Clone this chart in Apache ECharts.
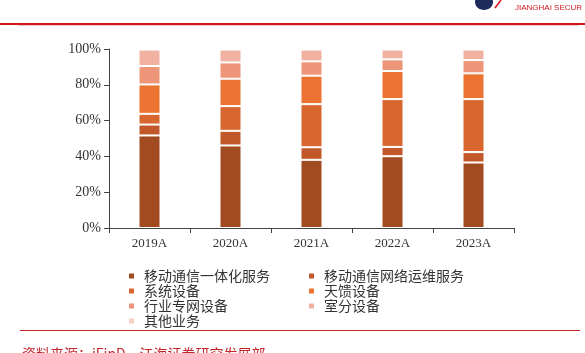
<!DOCTYPE html>
<html>
<head>
<meta charset="utf-8">
<script src="https://cdn.jsdelivr.net/npm/echarts@6/dist/echarts.min.js"></script>
<style>
  html, body { margin: 0; padding: 0; background: #fff; }
  #chart { width: 585px; height: 353px; }
</style>
</head>
<body>
<div id="chart"></div>
<script>
// Data (share of revenue, %)
var years = ['2019A', '2020A', '2021A', '2022A', '2023A'];
var yTicks = ['0%', '20%', '40%', '60%', '80%', '100%'];
var seriesNames = ['移动通信一体化服务', '移动通信网络运维服务', '系统设备', '天馈设备', '行业专网设备', '室分设备', '其他业务'];
var integratedService = [51.7, 46.1, 38.1, 40.1, 36.6];
var networkOps = [6.1, 8.2, 7.0, 5.2, 5.8];
var systemEquip = [6.0, 13.8, 24.1, 26.7, 29.6];
var antennaEquip = [16.4, 15.3, 15.9, 15.7, 14.4];
var privateNetEquip = [10.3, 9.1, 8.0, 6.5, 7.4];
var indoorEquip = [9.2, 7.2, 6.6, 5.5, 5.9];
var otherBusiness = [0.3, 0.3, 0.3, 0.3, 0.3];

var colors = ['#a34b20', '#c2582a', '#d7672e', '#ea7331', '#ec9579', '#f2b2a2', '#f6d0c7'];

var chart = echarts.init(document.getElementById('chart'));

var seriesData = [integratedService, networkOps, systemEquip, antennaEquip, privateNetEquip, indoorEquip, otherBusiness];

var series = seriesData.map(function (d, i) {
    return {
        name: seriesNames[i],
        type: 'bar',
        stack: 'total',
        barWidth: 22,
        data: d,
        itemStyle: { color: colors[i], borderColor: '#fff', borderWidth: 1 }
    };
});

var legendText = {
    fontFamily: '"Noto Sans CJK SC", sans-serif',
    fontSize: 14,
    lineHeight: 14,
    color: '#333',
    padding: [0, 0, 0, 4]
};

// Two vertical legend columns
var legendColumn = function (names, left) {
    return {
        data: names,
        orient: 'vertical',
        left: left,
        top: 264,
        padding: 5,
        itemWidth: 7,
        itemHeight: 7,
        itemGap: 1,
        icon: 'rect',
        textStyle: legendText
    };
};

chart.setOption({
    animation: false,
    color: colors,
    grid: { left: 109, right: 71, top: 49, bottom: 125 },
    legend: [
        legendColumn([seriesNames[0], seriesNames[2], seriesNames[4], seriesNames[6]], 122),
        legendColumn([seriesNames[1], seriesNames[3], seriesNames[5]], 302)
    ],
    xAxis: {
        type: 'category',
        data: years,
        axisLine: { lineStyle: { color: '#444', width: 1 } },
        axisTick: { show: true, length: 5, lineStyle: { color: '#444' } },
        axisLabel: { color: '#333', fontFamily: '"Liberation Serif", serif', fontSize: 13, margin: 9 }
    },
    yAxis: {
        type: 'value',
        min: 0,
        max: 100,
        interval: 20,
        axisLine: { show: true, lineStyle: { color: '#444', width: 1 } },
        axisTick: { show: true, length: 5, lineStyle: { color: '#444' } },
        splitLine: { show: false },
        axisLabel: {
            color: '#333',
            fontFamily: '"Liberation Serif", serif',
            fontSize: 14,
            margin: 8,
            formatter: function (v) { return yTicks[v / 20]; }
        }
    },
    graphic: [
        // header: logo + red rule
        { type: 'rect', shape: { x: 0, y: 23, width: 585, height: 2 }, style: { fill: '#d0191f' } },
        { type: 'rect', shape: { x: 18, y: 25, width: 560, height: 1 }, style: { fill: '#f2c6c6' } },
        { type: 'ellipse', shape: { cx: 484, cy: 2, rx: 9, ry: 8 }, style: { fill: '#1d2a5c' } },
        { type: 'line', shape: { x1: 495, y1: 8, x2: 501, y2: 0 }, style: { stroke: '#d0191f', lineWidth: 1.5 } },
        { type: 'text', left: 515, top: 4, style: { text: 'JIANGHAI SECUR', fill: '#d0191f', font: '8px "Liberation Sans", Arial, sans-serif' } },
        // footer: rule + source
        { type: 'rect', shape: { x: 20, y: 330, width: 560, height: 1 }, style: { fill: '#c0262c' } },
        { type: 'text', left: 22, top: 347, style: { text: '资料来源：iFinD，江海证券研究发展部', fill: '#c0262c', font: '14px "Noto Sans CJK SC", sans-serif' } }
    ],
    series: series
});
</script>
</body>
</html>
